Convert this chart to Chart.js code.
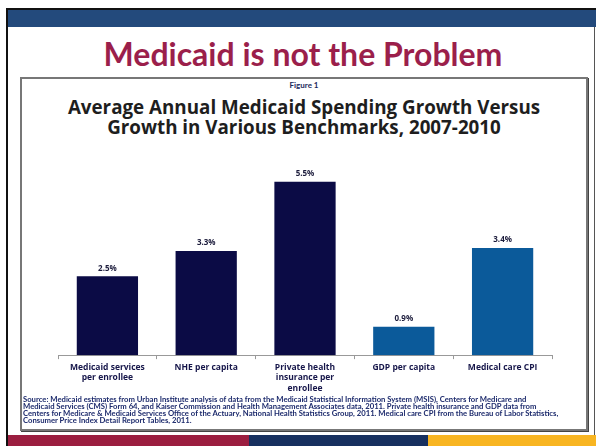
<!DOCTYPE html>
<html>
<head>
<meta charset="utf-8">
<script src="https://cdn.jsdelivr.net/npm/chart.js@4"></script>
<style>
  html, body { margin: 0; padding: 0; background: #fff; }
  #slide { position: relative; width: 596px; height: 446px; overflow: hidden; font-family: Lato, "Open Sans", sans-serif; }
  .abs { position: absolute; }
  #title { left: 0; width: 606px; top: 34px; text-align: center; font-size: 32px; font-weight: bold; color: #9b1f4b; }
  #fig { left: 20px; width: 568px; top: 80px; text-align: center; font-size: 8px; font-weight: bold; color: #1c2a5c; }
  #ctitle { left: 20px; width: 568px; top: 97px; text-align: center; font-family: "Open Sans", sans-serif; font-size: 18.8px; line-height: 20px; font-weight: bold; color: #1e1e1e; }
  #source { left: 23px; top: 396px; font-size: 7.7px; line-height: 7.1px; font-weight: bold; color: #1c2a6c; white-space: nowrap; }
</style>
</head>
<body>
<div id="slide">
  <div class="abs" style="left:6px;top:8px;width:590px;height:2px;background:#111;"></div>
  <div class="abs" style="left:8px;top:10px;width:588px;height:17px;background:#234a7c;"></div>
  <div class="abs" style="left:6px;top:8px;width:2px;height:438px;background:#111;"></div>
  <div class="abs" style="left:594px;top:27px;width:1px;height:408px;background:#555;"></div>
  <div class="abs" style="left:20px;top:77px;width:564px;height:350px;border:2px solid #777;box-shadow:1px 1px 0 #444;"></div>
  <div class="abs" style="left:8px;top:435px;width:241px;height:11px;background:#9b1e40;"></div>
  <div class="abs" style="left:249px;top:435px;width:179px;height:11px;background:#17305f;"></div>
  <div class="abs" style="left:428px;top:435px;width:168px;height:11px;background:#f8b522;"></div>

  <div id="title" class="abs">Medicaid is not the Problem</div>
  <div id="fig" class="abs">Figure 1</div>
  <div id="ctitle" class="abs">Average Annual Medicaid Spending Growth Versus<br>Growth in Various Benchmarks, 2007-2010</div>

  <div class="abs" style="left:22px;top:150px;width:564px;height:250px;">
    <canvas id="chart"></canvas>
  </div>

  <div id="source" class="abs">Source: Medicaid estimates from Urban Institute analysis of data from the Medicaid Statistical Information System (MSIS), Centers for Medicare and<br>Medicaid Services (CMS) Form 64, and Kaiser Commission and Health Management Associates data, 2011. Private health insurance and GDP data from<br>Centers for Medicare &amp; Medicaid Services Office of the Actuary, National Health Statistics Group, 2011. Medical care CPI from the Bureau of Labor Statistics,<br>Consumer Price Index Detail Report Tables, 2011.</div>
</div>

<script>
// categories and values (percent growth, 2007-2010)
const categories = [
    ['Medicaid services', 'per enrollee'],
    ['NHE per capita'],
    ['Private health', 'insurance per', 'enrollee'],
    ['GDP per capita'],
    ['Medical care CPI'],
];
const growthValues = [2.5, 3.3, 5.5, 0.9, 3.4];
const barColors = ['#0b0b45', '#0b0b45', '#0b0b45', '#0b5a9a', '#0b5a9a'];

const valueLabels = {
    id: 'valueLabels',
    afterDatasetsDraw(chart) {
        const ctx = chart.ctx;
        const meta = chart.getDatasetMeta(0);
        ctx.save();
        ctx.font = 'bold 8px "Open Sans", sans-serif';
        ctx.fillStyle = '#1c1c3c';
        ctx.textAlign = 'center';
        ctx.textBaseline = 'bottom';
        meta.data.forEach((bar, i) => {
            ctx.fillText(growthValues[i].toFixed(1) + '%', bar.x, bar.y - 4);
        });
        ctx.restore();
    },
};

new Chart(document.getElementById('chart'), {
    type: 'bar',
    data: {
        labels: categories,
        datasets: [{
            data: growthValues,
            backgroundColor: barColors,
            borderWidth: 0,
            barPercentage: 0.62,
            categoryPercentage: 1,
        }],
    },
    options: {
        responsive: true,
        maintainAspectRatio: false,
        animation: false,
        layout: { padding: { left: 36, right: 34, top: 16, bottom: 3 } },
        plugins: { legend: { display: false }, tooltip: { enabled: false } },
        scales: {
            x: {
                grid: { drawOnChartArea: false, drawTicks: true, tickLength: 4, color: '#999' },
                border: { color: '#999', width: 1 },
                ticks: { color: '#16164a', font: { size: 8.5, weight: 'bold', family: '"Open Sans"', lineHeight: 1.25 }, maxRotation: 0, padding: 3 },
            },
            y: { display: false, min: 0, max: 6 },
        },
    },
    plugins: [valueLabels],
});
</script>
</body>
</html>
